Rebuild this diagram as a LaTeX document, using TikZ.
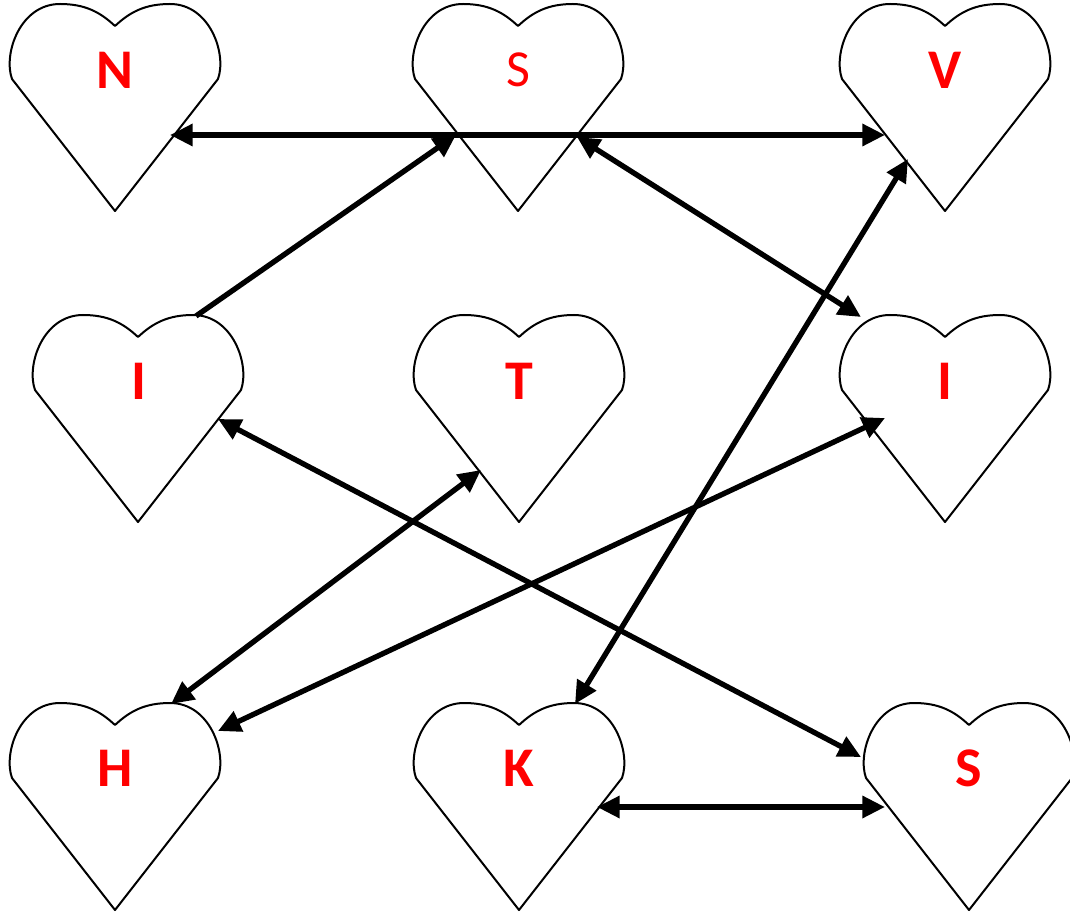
\documentclass[tikz,border=0pt]{standalone}
\usepackage{fontspec}
\setmainfont{Carlito}
\usetikzlibrary{arrows.meta}
\begin{document}
\begin{tikzpicture}[x=0.75pt,y=-0.75pt,
  heartline/.style={draw=black,line width=1.5pt,line join=round},
  lbl/.style={text=red,font=\fontsize{42}{42}\selectfont\bfseries,inner sep=0pt},
  lblr/.style={text=red,font=\fontsize{39}{39}\selectfont,inner sep=0pt},
  conn/.style={line width=4pt,{Triangle[length=17pt,width=16pt]}-{Triangle[length=17pt,width=16pt]}},
  connone/.style={line width=4pt,-{Triangle[length=17pt,width=16pt]}},
  heart/.pic={
    \path[heartline] (0,207) -- (-103,75) .. controls (-112,50) and (-95,0) .. (-55,0)
      .. controls (-30,0) and (-15,8) .. (0,22)
      .. controls (15,8) and (30,0) .. (55,0)
      .. controls (95,0) and (112,50) .. (103,75) -- cycle;
  }]
\useasboundingbox (0,0) rectangle (1070,912);
% hearts
\pic at (115,4) {heart};
\pic at (518,4) {heart};
\pic at (945,4) {heart};
\pic at (138,315) {heart};
\pic at (519,315) {heart};
\pic at (945,315) {heart};
\pic at (115,703) {heart};
\pic at (519,703) {heart};
\pic at (969,703) {heart};
% labels
\node[lbl] (N) at (115,70) {N};
\node[lblr] (S1) at (518,70) {S};
\node[lbl] (V) at (945,70) {V};
\node[lbl] (I1) at (139,381) {I};
\node[lbl] (T) at (519,381) {T};
\node[lbl] (I2) at (945,381) {I};
\node[lbl] (H) at (115,768) {H};
\node[lbl] (K) at (519,768) {K};
\node[lbl] (S2) at (969,768) {S};
% connector end points
\coordinate (N-e) at (170,135);
\coordinate (V-w) at (885,135);
\coordinate (I1-t) at (196,316);
\coordinate (S1-sw) at (456,135);
\coordinate (S1-se) at (577,137);
\coordinate (I2-nw) at (861,317);
\coordinate (V-sw) at (908,159);
\coordinate (K-t) at (575,704);
\coordinate (I1-se) at (218,419);
\coordinate (S2-w) at (861,757);
\coordinate (T-sw) at (481,470);
\coordinate (H-t) at (171,704);
\coordinate (I2-sw) at (885,418);
\coordinate (H-ne) at (218,731);
\coordinate (K-e) at (597,807);
\coordinate (S2-sw) at (885,807);
% connectors
\draw[conn] (N-e) -- (V-w);
\draw[connone] (I1-t) -- (S1-sw);
\draw[conn] (S1-se) -- (I2-nw);
\draw[conn] (V-sw) -- (K-t);
\draw[conn] (I1-se) -- (S2-w);
\draw[conn] (T-sw) -- (H-t);
\draw[conn] (I2-sw) -- (H-ne);
\draw[conn] (K-e) -- (S2-sw);
\end{tikzpicture}
\end{document}
